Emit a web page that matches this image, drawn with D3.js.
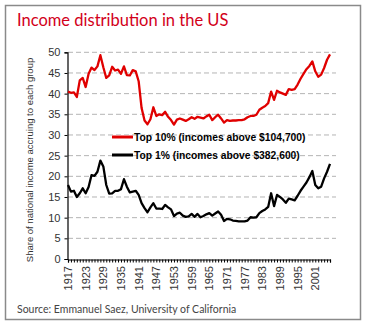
<!DOCTYPE html>
<html>
<head>
<meta charset="utf-8">
<script src="https://cdn.jsdelivr.net/npm/d3@7"></script>
<style>
  html, body { margin: 0; padding: 0; background: #fff; }
  svg { display: block; }
</style>
</head>
<body>
<div id="chart"></div>
<script>
/* income shares of the top decile and top percentile, 1917-2006 */
var years = d3.range(1917, 2007);

var top10 = [
  40.5, 40.2, 40.3, 39.2, 43.2, 43.8, 41.6, 44.8, 46.3, 45.7,
  46.6, 49.3, 46.4, 43.8, 44.4, 46.5, 45.6, 45.8, 44.8, 46.6,
  44.5, 44.4, 45.7, 45.4, 43.0, 36.5, 33.5, 32.6, 33.8, 36.7,
  34.6, 35.0, 34.8, 35.6, 34.4, 33.6, 32.5, 33.7, 34.0, 33.7,
  33.4, 33.8, 34.3, 33.9, 34.4, 34.2, 34.0, 34.5, 34.9, 33.6,
  34.3, 34.9, 34.0, 33.0, 33.6, 33.4, 33.5, 33.5, 33.6, 33.6,
  33.8, 34.3, 34.6, 34.6, 34.9, 36.1, 36.6, 37.0, 37.7, 40.5,
  38.5, 40.7, 40.3, 40.0, 39.7, 41.1, 40.9, 41.1, 42.2, 43.6,
  44.8, 45.9, 46.7, 47.8, 45.4, 44.1, 44.6, 46.2, 48.2, 49.5
];

var top1 = [
  17.9, 16.3, 16.5, 15.0, 15.9, 17.1, 15.9, 17.4, 20.3, 20.1,
  21.1, 23.8, 22.4, 17.9, 15.8, 15.9, 16.5, 16.5, 16.9, 19.3,
  17.5, 16.1, 16.3, 16.5, 15.5, 13.5, 12.3, 11.3, 12.5, 13.5,
  12.2, 12.2, 12.1, 13.1, 12.5, 12.0, 10.4, 11.0, 11.2, 10.5,
  10.2, 10.3, 10.9, 10.2, 10.9, 10.1, 10.4, 10.8, 11.1, 10.5,
  11.0, 11.5, 10.7, 9.2, 9.7, 9.6, 9.3, 9.2, 9.1, 9.1,
  9.1, 9.3, 10.1, 10.0, 10.1, 11.1, 11.6, 12.0, 12.6, 15.9,
  12.8, 15.5, 15.0, 14.4, 13.6, 14.6, 14.4, 14.2, 15.3, 16.5,
  17.5, 18.5, 19.8, 21.3, 17.9, 17.1, 17.5, 19.5, 21.1, 23.0
];

var yTicks = [0, 5, 10, 15, 20, 25, 30, 35, 40, 45, 50];
var xLabelYears = d3.range(1917, 2002, 6);

var seriesNames = ['Top 10% (incomes above $104,700)', 'Top 1% (incomes above $382,600)'];
var seriesColors = ['#e00000', '#000000'];

var W = 367, H = 325;
var svg = d3.select('#chart').append('svg')
  .attr('width', W).attr('height', H);

/* frame */
svg.append('rect')
  .attr('x', 5.5).attr('y', 5.5)
  .attr('width', 355).attr('height', 314)
  .attr('fill', '#fff')
  .attr('stroke', '#8a8a8a').attr('stroke-width', 1.5);

/* title */
svg.append('text')
  .attr('x', 17).attr('y', 26)
  .attr('font-family', 'Lato, "Open Sans", sans-serif')
  .attr('font-size', 16.5)
  .attr('fill', '#d2001a')
  .text('Income distribution in the US');

var x = d3.scaleLinear().domain([1917, 2006]).range([68, 330]);
var y = d3.scaleLinear().domain([0, 50]).range([259, 52.3]);

/* dashed gridlines */
svg.append('g').selectAll('line')
  .data(yTicks.filter(function (d) { return d > 0; }))
  .join('line')
  .attr('x1', 68).attr('x2', 336)
  .attr('y1', function (d) { return y(d); })
  .attr('y2', function (d) { return y(d); })
  .attr('stroke', '#b4b4b4').attr('stroke-width', 1)
  .attr('stroke-dasharray', '5,3');

/* y axis */
var yAxis = svg.append('g')
  .attr('transform', 'translate(67.5,0)')
  .call(d3.axisLeft(y).tickValues(yTicks).tickSize(3).tickPadding(4));
yAxis.select('.domain').attr('stroke', '#000').attr('stroke-width', 1.2);
yAxis.selectAll('text')
  .attr('font-family', '"Liberation Sans", Arial, sans-serif')
  .attr('font-size', 11).attr('fill', '#333');

/* x axis: a tick per year, labels every sixth year */
var xAxis = svg.append('g')
  .attr('transform', 'translate(0,259.5)')
  .call(d3.axisBottom(x).tickValues(years).tickSize(3).tickFormat(''));
xAxis.select('.domain').attr('stroke', '#000').attr('stroke-width', 1.2);
xAxis.selectAll('.tick line').attr('stroke', '#000');

svg.append('g').selectAll('text')
  .data(xLabelYears)
  .join('text')
  .attr('transform', function (d) {
    return 'translate(' + (x(d) + 4) + ',266) rotate(-90)';
  })
  .attr('text-anchor', 'end')
  .attr('font-family', '"Liberation Sans", Arial, sans-serif')
  .attr('font-size', 11).attr('fill', '#333')
  .text(function (d) { return d; });

/* y axis title */
svg.append('text')
  .attr('transform', 'translate(33,160) rotate(-90)')
  .attr('text-anchor', 'middle')
  .attr('font-family', '"Liberation Sans", Arial, sans-serif')
  .attr('font-size', 9.5).attr('fill', '#333')
  .text('Share of national income accruing to each group');

/* series lines */
var line = d3.line()
  .x(function (d) { return x(d[0]); })
  .y(function (d) { return y(d[1]); });

[top10, top1].forEach(function (vals, i) {
  svg.append('path')
    .datum(years.map(function (yr, k) { return [yr, vals[k]]; }))
    .attr('d', line)
    .attr('fill', 'none')
    .attr('stroke', seriesColors[i])
    .attr('stroke-width', 2.3)
    .attr('stroke-linejoin', 'round');
});

/* legend */
var lg = svg.append('g').selectAll('g')
  .data(seriesNames)
  .join('g')
  .attr('transform', function (d, i) { return 'translate(112,' + (137 + i * 18) + ')'; });
lg.append('rect')
  .attr('x', 0).attr('y', -2).attr('width', 21).attr('height', 4)
  .attr('fill', '#fff');
lg.append('line')
  .attr('x1', 0).attr('x2', 21).attr('y1', 0).attr('y2', 0)
  .attr('stroke', function (d, i) { return seriesColors[i]; })
  .attr('stroke-width', 3);
lg.append('text')
  .attr('x', 22).attr('y', 3.8)
  .attr('font-family', '"Liberation Sans", Arial, sans-serif')
  .attr('font-size', 10.3).attr('font-weight', 'bold').attr('fill', '#000')
  .text(function (d) { return d; });

/* source note */
svg.append('text')
  .attr('x', 17).attr('y', 313)
  .attr('font-family', 'Lato, "Open Sans", sans-serif')
  .attr('font-size', 10.5).attr('fill', '#444')
  .text('Source: Emmanuel Saez, University of California');
</script>
</body>
</html>
